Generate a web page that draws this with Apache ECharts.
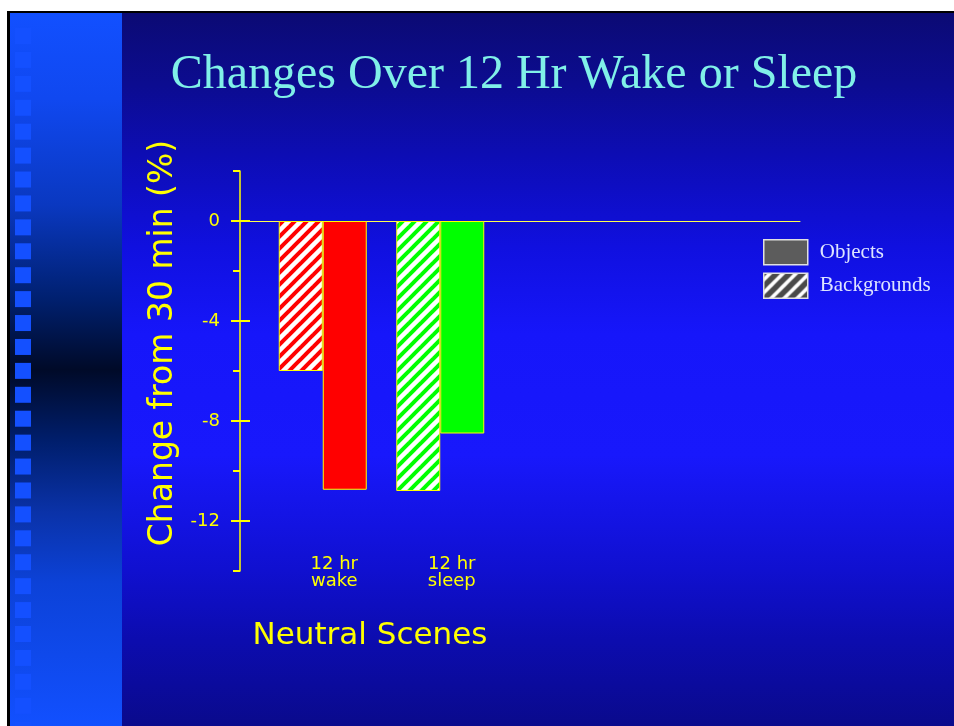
<!DOCTYPE html>
<html>
<head>
<meta charset="utf-8">
<script src="https://cdn.jsdelivr.net/npm/echarts@6/dist/echarts.min.js"></script>
<style>
  html, body { margin: 0; padding: 0; background: #fff; }
  #main { width: 954px; height: 726px; }
</style>
</head>
<body>
<div id="main"></div>
<script>
// data
var categories = ['12 hr\nwake', '12 hr\nsleep'];
var backgrounds = [-6.0, -10.8];
var objects = [-10.75, -8.5];
var tickLabels = [0, -4, -8, -12];
var minorTicks = [2, -2, -6, -10, -14];

var yellow = '#ffff00';
var sans = 'DejaVu Sans';
var serif = 'Liberation Serif';

// diagonal "/" hatching as a repeating canvas tile
function stripes(fg, bg, size, w) {
    var c = document.createElement('canvas');
    c.width = size;
    c.height = size;
    var g = c.getContext('2d');
    g.fillStyle = bg;
    g.fillRect(0, 0, size, size);
    g.strokeStyle = fg;
    g.lineWidth = w;
    [0, size, 2 * size].forEach(function (k) {
        g.beginPath();
        g.moveTo(k - 2 * size, 2 * size);
        g.lineTo(k + 2 * size, -2 * size);
        g.stroke();
    });
    return { image: c, repeat: 'repeat' };
}

var barColors = ['#ff0000', '#00ff00'];
var barHatch = [stripes('#ff0000', '#ffffff', 12, 4), stripes('#00ff00', '#ffffff', 12, 4)];
var legendHatch = stripes('#4a4a4a', '#ffffff', 13, 5.5);

// slide decoration
var deco = [
    { type: 'rect', shape: { x: 7, y: 11, width: 947, height: 715 }, style: { fill: '#000' }, z: -20 },
    {
        type: 'rect', shape: { x: 10, y: 13, width: 112, height: 713 }, z: -19,
        style: {
            fill: {
                type: 'linear', x: 0, y: 0, x2: 0, y2: 1,
                colorStops: [
                    { offset: 0, color: '#1250ff' },
                    { offset: 0.12, color: '#1048f0' },
                    { offset: 0.27, color: '#0a38c0' },
                    { offset: 0.4, color: '#002070' },
                    { offset: 0.5, color: '#000a28' },
                    { offset: 0.6, color: '#001e6c' },
                    { offset: 0.7, color: '#0a32a8' },
                    { offset: 0.8, color: '#0c42d8' },
                    { offset: 1, color: '#1250ff' }
                ]
            }
        }
    },
    {
        type: 'rect', shape: { x: 122, y: 13, width: 832, height: 713 }, z: -19,
        style: {
            fill: {
                type: 'linear', x: 0, y: 0, x2: 0, y2: 1,
                colorStops: [
                    { offset: 0, color: '#0b0a74' },
                    { offset: 0.1, color: '#0c0c90' },
                    { offset: 0.2, color: '#0d0db4' },
                    { offset: 0.33, color: '#1010e0' },
                    { offset: 0.45, color: '#1616fa' },
                    { offset: 0.62, color: '#1818fc' },
                    { offset: 0.78, color: '#1010d0' },
                    { offset: 0.88, color: '#0c0cae' },
                    { offset: 1, color: '#0a0a8c' }
                ]
            }
        }
    }
];
for (var k = 0; k < 30; k++) {
    deco.push({
        type: 'rect', z: -18,
        shape: { x: 15, y: 28 + k * 23.92, width: 16, height: 16 },
        style: { fill: '#1450ff' }
    });
}
deco.push(
    {
        type: 'text', x: 514, y: 75,
        style: { text: 'Changes Over 12 Hr Wake or Sleep', fill: '#80f0e8', font: '48px "Liberation Serif"', align: 'center', verticalAlign: 'middle' }
    },
    {
        type: 'text', x: 163, y: 343, rotation: Math.PI / 2,
        style: { text: 'Change from 30 min (%)', fill: yellow, font: '33px "DejaVu Sans"', align: 'center', verticalAlign: 'middle' }
    },
    {
        type: 'text', x: 370, y: 636,
        style: { text: 'Neutral Scenes', fill: yellow, font: '31px "DejaVu Sans"', align: 'center', verticalAlign: 'middle' }
    }
);

function hidden(grid) {
    return { gridIndex: grid, type: 'value', min: -14, max: 2, position: 'left', show: false };
}

var option = {
    animation: false,
    graphic: deco,
    grid: [
        { left: 240, right: 154, top: 171, bottom: 155 },
        { left: 264, right: 455, top: 171, bottom: 155 }
    ],
    legend: {
        orient: 'vertical',
        left: 763,
        top: 239,
        padding: 0,
        itemWidth: 44,
        itemHeight: 25,
        itemGap: 7,
        textStyle: { color: '#dde4ff', fontFamily: serif, fontSize: 21, padding: [0, 0, 0, 7] },
        data: [
            { name: 'Objects', icon: 'rect', itemStyle: { color: '#5c5c5c', borderColor: '#e0e0e0', borderWidth: 1.5 } },
            { name: 'Backgrounds', icon: 'rect', itemStyle: { color: legendHatch, borderColor: '#e0e0e0', borderWidth: 1.5 } }
        ]
    },
    xAxis: [
        {
            gridIndex: 0, type: 'value', min: 0, max: 1,
            axisLine: { show: true, onZero: true, lineStyle: { color: '#ffff50', width: 1 } },
            axisTick: { show: false },
            axisLabel: { show: false },
            splitLine: { show: false }
        },
        {
            gridIndex: 1, type: 'category', data: categories, position: 'bottom',
            axisLine: { show: false, onZero: false },
            axisTick: { show: false },
            axisLabel: {
                color: yellow, fontFamily: sans, fontSize: 18, lineHeight: 17,
                margin: -15, padding: [0, 0, 0, 23]
            }
        }
    ],
    yAxis: [
        {
            gridIndex: 0, type: 'value', min: -14, max: 2, position: 'left',
            axisLine: { show: true, onZero: false, lineStyle: { color: yellow, width: 1.5 } },
            axisTick: { show: true, length: 7, customValues: minorTicks, lineStyle: { color: yellow, width: 2 } },
            axisLabel: { customValues: tickLabels, margin: 20, color: yellow, fontFamily: sans, fontSize: 18 },
            splitLine: { show: false }
        },
        {
            gridIndex: 0, type: 'value', min: -14, max: 2, position: 'left',
            axisLine: { show: false, onZero: false },
            axisTick: { show: true, length: 9, customValues: tickLabels, lineStyle: { color: yellow, width: 2 } },
            axisLabel: { show: false },
            splitLine: { show: false }
        },
        {
            gridIndex: 0, type: 'value', min: -14, max: 2, position: 'left',
            axisLine: { show: false, onZero: false },
            axisTick: { show: true, inside: true, length: 10, customValues: tickLabels, lineStyle: { color: yellow, width: 2 } },
            axisLabel: { show: false },
            splitLine: { show: false }
        },
        hidden(1)
    ],
    series: [
        {
            name: 'Backgrounds', type: 'bar', xAxisIndex: 1, yAxisIndex: 3,
            barWidth: 44, barGap: 0,
            itemStyle: { color: legendHatch, borderColor: yellow, borderWidth: 1 },
            data: backgrounds.map(function (v, i) {
                return { value: v, itemStyle: { color: barHatch[i] } };
            })
        },
        {
            name: 'Objects', type: 'bar', xAxisIndex: 1, yAxisIndex: 3,
            barWidth: 44, barGap: 0,
            itemStyle: { color: '#5c5c5c', borderColor: yellow, borderWidth: 1 },
            data: objects.map(function (v, i) {
                return { value: v, itemStyle: { color: barColors[i] } };
            })
        }
    ]
};

var myChart = echarts.init(document.getElementById('main'));
myChart.setOption(option);
</script>
</body>
</html>
